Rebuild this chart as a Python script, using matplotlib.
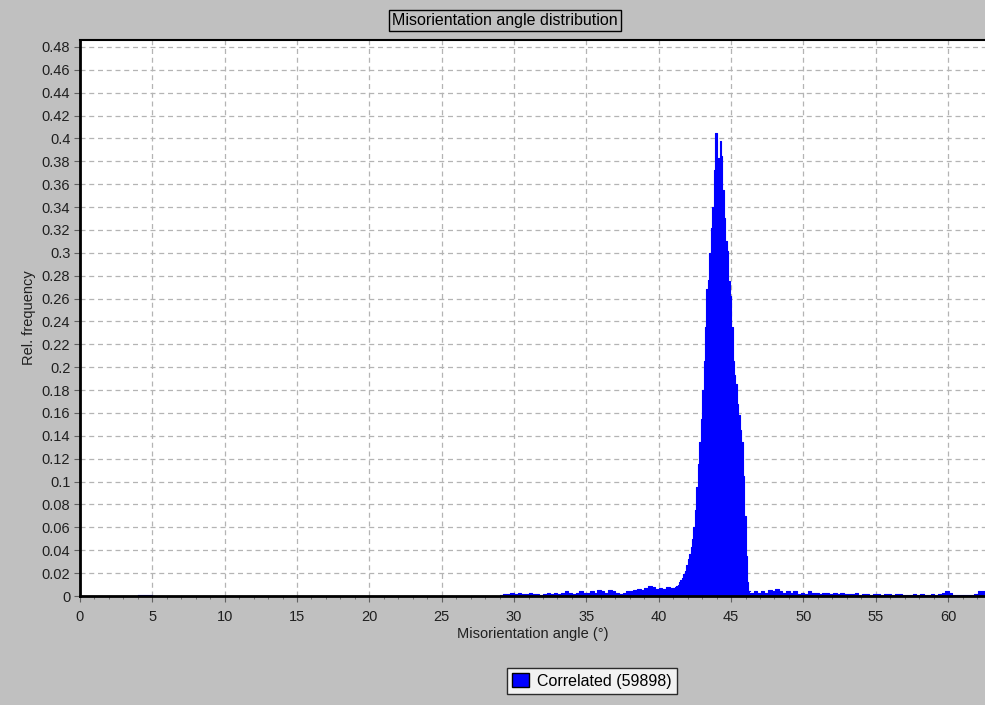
import matplotlib
matplotlib.use("Agg")
import matplotlib.pyplot as plt
import numpy as np
from matplotlib.patches import Patch
from matplotlib.ticker import MultipleLocator

# ---- data ----
# baseline noise, 0.25 deg bins, left of the peak (start 29.0)
base_left_start = 29.0
base_left = [0.001, 0.002, 0.002, 0.003,
             0.002, 0.003, 0.002, 0.002,
             0.003, 0.002, 0.002, 0.001,
             0.002, 0.003, 0.002, 0.003,
             0.002, 0.003, 0.004, 0.003,
             0.002, 0.003, 0.004, 0.003,
             0.003, 0.004, 0.003, 0.005,
             0.004, 0.003, 0.005, 0.004,
             0.003, 0.002, 0.003, 0.004,
             0.004, 0.005, 0.006, 0.005,
             0.007, 0.009, 0.008, 0.006,
             0.007, 0.006, 0.008, 0.007]
# peak, 0.1 deg bins (start 41.0)
peak_start = 41.0
peak = [0.007, 0.008, 0.009, 0.010, 0.012, 0.014, 0.016, 0.019, 0.022, 0.027,
        0.032, 0.037, 0.043, 0.050, 0.060, 0.075, 0.095, 0.115, 0.135, 0.155,
        0.180, 0.205, 0.235, 0.268, 0.276, 0.300, 0.322, 0.340, 0.372, 0.405,
        0.365, 0.383, 0.398, 0.385, 0.355, 0.330, 0.310, 0.302, 0.275, 0.262,
        0.235, 0.205, 0.193, 0.185, 0.168, 0.158, 0.145, 0.135, 0.105, 0.070,
        0.035, 0.012, 0.004]
# baseline noise, 0.25 deg bins, right of the peak (start 46.3)
base_right_start = 46.3
base_right = [0.003, 0.004, 0.003,
              0.004, 0.003, 0.005, 0.004,
              0.006, 0.004, 0.003, 0.004,
              0.003, 0.004, 0.002, 0.003,
              0.002, 0.004, 0.003, 0.003,
              0.002, 0.003, 0.003, 0.002,
              0.003, 0.002, 0.003, 0.002,
              0.002, 0.002, 0.003, 0.001,
              0.002, 0.002, 0.001, 0.002,
              0.002, 0.001, 0.002, 0.002,
              0.001, 0.002, 0.002, 0.001,
              0.001, 0.001, 0.002, 0.001,
              0.002, 0.001, 0.001, 0.002,
              0.001, 0.002, 0.003, 0.004,
              0.003, 0.001, 0.001, 0.001,
              0.001, 0.001, 0.001, 0.002,
              0.004, 0.004]
# small bits near 4-5 deg
low_start = 4.0
low = [0.001, 0.0008, 0.001, 0.0008]

x_ticks = list(range(0, 61, 5))
y_ticks = [round(0.02 * i, 2) for i in range(25)]
y_labels = ["0" if v == 0 else ("%g" % v) for v in y_ticks]

title = "Misorientation angle distribution"
xlabel = "Misorientation angle (°)"
ylabel = "Rel. frequency"
legend_label = "Correlated (59898)"

# ---- figure ----
BG = "#C0C0C0"
BLUE = "#0000FF"
plt.rcParams['font.family'] = ['Liberation Sans', 'DejaVu Sans']
fig = plt.figure(figsize=(9.85, 7.05), dpi=100, facecolor=BG)
ax = fig.add_axes([80 / 985, 109 / 705, 905 / 985, 556 / 705])
ax.set_facecolor("white")

def draw(start, vals, w):
    edges = start + w * np.arange(len(vals) + 1)
    yv = list(vals) + [vals[-1]]
    ax.fill_between(edges, 0, yv, step="post", color=BLUE, linewidth=0,
                    antialiased=False, zorder=3)
    ax.step(edges, yv, where="post", color=BLUE, linewidth=0.8, zorder=3)

draw(low_start, low, 0.25)
draw(base_left_start, base_left, 0.25)
draw(peak_start, peak, 0.1)
draw(base_right_start, base_right, 0.25)

ax.set_xlim(0, 62.55)
ax.set_ylim(0, 0.486)
ax.set_xticks(x_ticks)
ax.set_yticks(y_ticks)
ax.set_yticklabels(y_labels)
ax.xaxis.set_minor_locator(MultipleLocator(1))
ax.tick_params(axis="both", which="major", direction="out", length=4,
               color="#606060", labelsize=10.5, labelcolor="#202020")
ax.tick_params(axis="x", which="major", pad=6)
ax.tick_params(axis="y", which="major", pad=3)
ax.tick_params(axis="x", which="minor", direction="out", length=2, color="#606060")
ax.grid(True, which="major", linestyle=(0, (4, 3)), color="#B4B4B4", linewidth=0.9, zorder=0)
ax.set_axisbelow(True)

for s in ["left", "bottom", "top"]:
    ax.spines[s].set_color("black")
    ax.spines[s].set_linewidth(2)
ax.spines["top"].set_linewidth(1.5)
ax.spines["right"].set_visible(False)
ax.spines["bottom"].set_linestyle((0, (2, 1)))
ax.spines["left"].set_linestyle((0, (2, 1)))
ax.spines["bottom"].set_zorder(4)

ax.set_xlabel(xlabel, fontsize=10.5, color="#202020", labelpad=2)
ax.set_ylabel(ylabel, fontsize=10.5, color="#202020", labelpad=4)

fig.text(505 / 985, 1 - 20.5 / 705, title, ha="center", va="center",
         fontsize=11.5, color="black",
         family=['Liberation Sans Narrow', 'Liberation Sans', 'DejaVu Sans'],
         bbox=dict(boxstyle="square,pad=0.2", facecolor=BG, edgecolor="black", linewidth=1))

leg = fig.legend(handles=[Patch(facecolor=BLUE, edgecolor="black", label=legend_label)],
                 loc="center", bbox_to_anchor=(592 / 985, 24 / 705),
                 frameon=True, fancybox=False, fontsize=11.5, handlelength=1.1,
                 handleheight=1.0, handletextpad=0.5, borderpad=0.3, borderaxespad=0)
leg.get_frame().set_edgecolor("black")
leg.get_frame().set_linewidth(1)
leg.get_frame().set_facecolor("white")

fig.savefig("out.png", dpi=100, facecolor=BG)
